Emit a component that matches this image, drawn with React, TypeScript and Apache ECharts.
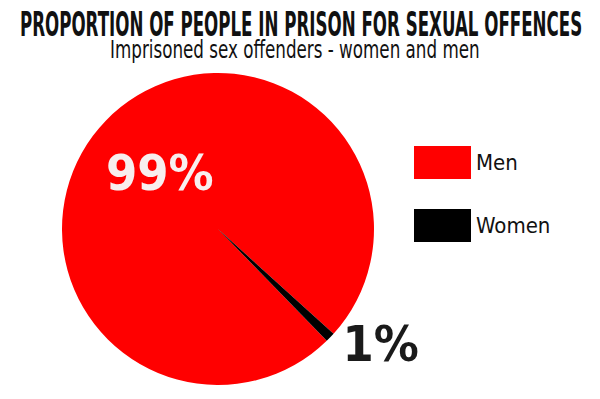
import React, { useEffect, useRef } from "react";
import * as echarts from "echarts";

const titleText = "PROPORTION OF PEOPLE IN PRISON FOR SEXUAL OFFENCES";
const subtitleText = "Imprisoned sex offenders - women and men";
const categories = ["Men", "Women"];
const values = [99, 1];
const colors = ["#ff0000", "#000000"];

function measure(text: string, font: string): number {
  const c = document.createElement("canvas");
  const ctx = c.getContext("2d");
  if (!ctx) return 1;
  ctx.font = font;
  return ctx.measureText(text).width || 1;
}

export default function App() {
  const ref = useRef<HTMLDivElement>(null);
  useEffect(() => {
    if (!ref.current) return;
    const chart = echarts.init(ref.current, undefined, { renderer: "svg" });
    const labelFont = "DejaVu Sans Condensed";
    const titleFont = "bold 33px 'DejaVu Sans Condensed'";
    const subFont = "25px 'DejaVu Sans Condensed'";
    const titleScale = 563 / measure(titleText, titleFont);
    const subScale = 370 / measure(subtitleText, subFont);
    chart.setOption({
      animation: false,
      backgroundColor: "#ffffff",
      graphic: [
        {
          type: "text",
          x: 20,
          y: 8,
          scaleX: titleScale,
          style: {
            text: titleText,
            font: titleFont,
            fill: "#111111",
            textAlign: "left",
            textVerticalAlign: "top",
          },
        },
        {
          type: "text",
          x: 110,
          y: 37,
          scaleX: subScale,
          style: {
            text: subtitleText,
            font: subFont,
            fill: "#111111",
            textAlign: "left",
            textVerticalAlign: "top",
          },
        },
      ],
      legend: {
        orient: "vertical",
        left: 409,
        top: 141,
        itemWidth: 57,
        itemHeight: 33,
        itemGap: 30,
        icon: "rect",
        data: categories,
        textStyle: {
          fontFamily: labelFont,
          fontSize: 22,
          color: "#111111",
        },
      },
      series: [
        {
          type: "pie",
          center: [218, 229],
          radius: 156,
          startAngle: -45.8,
          clockwise: true,
          silent: true,
          data: categories.map((name, i) => ({
            name,
            value: values[i],
            itemStyle: { color: colors[i] },
            label:
              i === 0
                ? {
                    show: true,
                    position: "inside",
                    formatter: (p: any) => p.value + "%",
                    color: "#f8eeee",
                    fontFamily: labelFont,
                    fontWeight: "bold",
                    fontSize: 50,
                  }
                : {
                    show: true,
                    position: "outside",
                    formatter: (p: any) => p.value + "%",
                    color: "#1a1a1a",
                    fontFamily: labelFont,
                    fontWeight: "bold",
                    fontSize: 50,
                    padding: [26, 0, 0, 0],
                  },
            labelLine: { show: false, length: 10, length2: 0 },
          })),
        },
      ],
    });
    return () => chart.dispose();
  }, []);
  return (
    <div
      ref={ref}
      style={{ position: "fixed", left: 0, top: 0, width: 600, height: 399, background: "#fff" }}
    />
  );
}
